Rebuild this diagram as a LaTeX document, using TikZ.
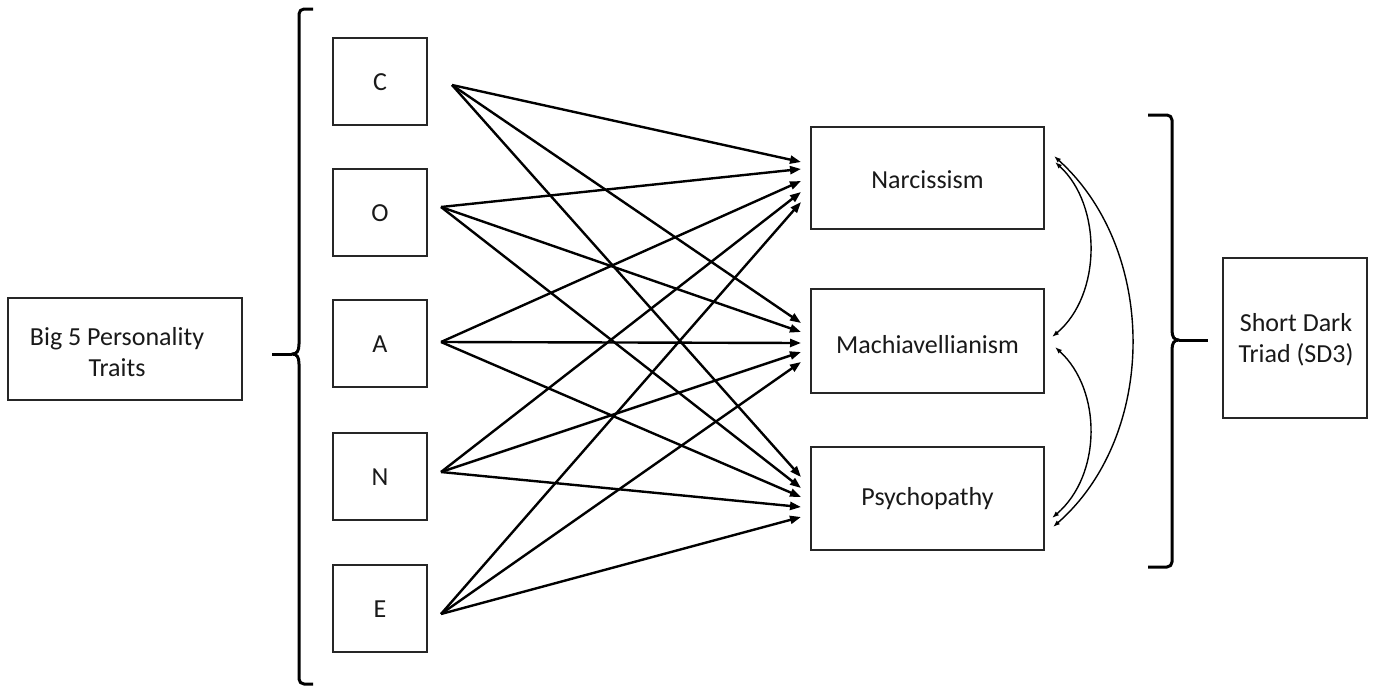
\documentclass[tikz,border=0pt]{standalone}
\usepackage{fontspec}
\setmainfont{Carlito}
\usetikzlibrary{arrows.meta}
\begin{document}
\begin{tikzpicture}[x=1pt,y=-1pt,
  box/.style={draw, line width=1.5pt, draw=black!85, inner sep=0pt},
  label/.style={font=\fontsize{26}{31.5}\selectfont, align=center, inner sep=0pt, text=black!90},
  link/.style={line width=2.4pt, -{Triangle[length=11pt,width=8pt]}},
  corr/.style={line width=1.4pt, {Latex[length=7pt,width=5pt]}-{Latex[length=7pt,width=5pt]}},
  bracket/.style={line width=3pt, line join=round}
]
\useasboundingbox (0,0) rectangle (1377,696);

% Big Five block
\node[box, minimum width=234pt, minimum height=102pt] (big5) at (125,349) {};
\node[label] (big5t) at (117,352) {Big 5 Personality\\Traits};

% Five trait boxes
\foreach \t/\y in {C/81.5, O/212.5, A/343.5, N/476.5, E/608.5}{
  \node[box, minimum width=94pt, minimum height=87pt] (\t) at (380,\y) {};
  \node[label] (\t t) at (380,\y+1) {\t};
}

% Dark triad boxes
\node[box, minimum width=233pt, minimum height=102pt] (narc) at (927.5,178) {};
\node[label] (narct) at (927.5,180) {Narcissism};
\node[box, minimum width=233pt, minimum height=104pt] (mach) at (927.5,341) {};
\node[label] (macht) at (927.5,345) {Machiavellianism};
\node[box, minimum width=233pt, minimum height=103pt] (psych) at (927.5,498.5) {};
\node[label] (psycht) at (927.5,499) {Psychopathy};

% Short Dark Triad block
\node[box, minimum width=144pt, minimum height=160pt] (sd3) at (1295,338) {};
\node[label] (sd3t) at (1296,340) {Short Dark\\Triad (SD3)};

% Left bracket gathering the five traits
\coordinate (lcusp) at (292,354);
\coordinate (ltick) at (272,354);
\draw[bracket] (313,9) -- (304,9) to[out=180,in=90] (299,14) -- (299,344)
  .. controls (299,351) and (297,354) .. (lcusp)
  .. controls (297,354) and (299,357) .. (299,364) -- (299,679)
  to[out=-90,in=180] (304,684) -- (313,684);
\draw[bracket] (ltick) -- (lcusp);

% Right bracket gathering the three dark traits
\coordinate (rcusp) at (1179,340);
\coordinate (rtick) at (1208,340);
\draw[bracket] (1148,115) -- (1167,115) to[out=0,in=90] (1172,120) -- (1172,330)
  .. controls (1172,337) and (1174,340) .. (rcusp)
  .. controls (1174,340) and (1172,343) .. (1172,350) -- (1172,562)
  to[out=-90,in=0] (1167,567) -- (1148,567);
\draw[bracket] (rcusp) -- (rtick);

% Arrow tails
\coordinate (sC) at (452,85);
\coordinate (sO) at (441,207);
\coordinate (sA) at (441,342);
\coordinate (sN) at (441,472);
\coordinate (sE) at (441,614);

% Arrow heads at each dark trait
\foreach \t/\a/\b/\c in {C/162/323/477, O/169/332/488, A/181/343/497, N/192/352/507, E/202/362/517}{
  \coordinate (n\t) at (801,\a);
  \coordinate (m\t) at (801,\b);
  \coordinate (p\t) at (801,\c);
}

\foreach \t in {C,O,A,N,E}{
  \draw[link] (s\t) -- (n\t);
  \draw[link] (s\t) -- (m\t);
  \draw[link] (s\t) -- (p\t);
}

% Correlations among the dark traits
\coordinate (na) at (1054,156);
\coordinate (nb) at (1055,162);
\coordinate (ma) at (1052,337);
\coordinate (mb) at (1055,347);
\coordinate (pa) at (1052,518);
\coordinate (pb) at (1053,527);
\draw[corr] (nb) .. controls (1102,205) and (1102,295) .. (ma);
\draw[corr] (mb) .. controls (1102,390) and (1102,475) .. (pa);
\draw[corr] (na) .. controls (1158,250) and (1158,435) .. (pb);
\end{tikzpicture}
\end{document}
